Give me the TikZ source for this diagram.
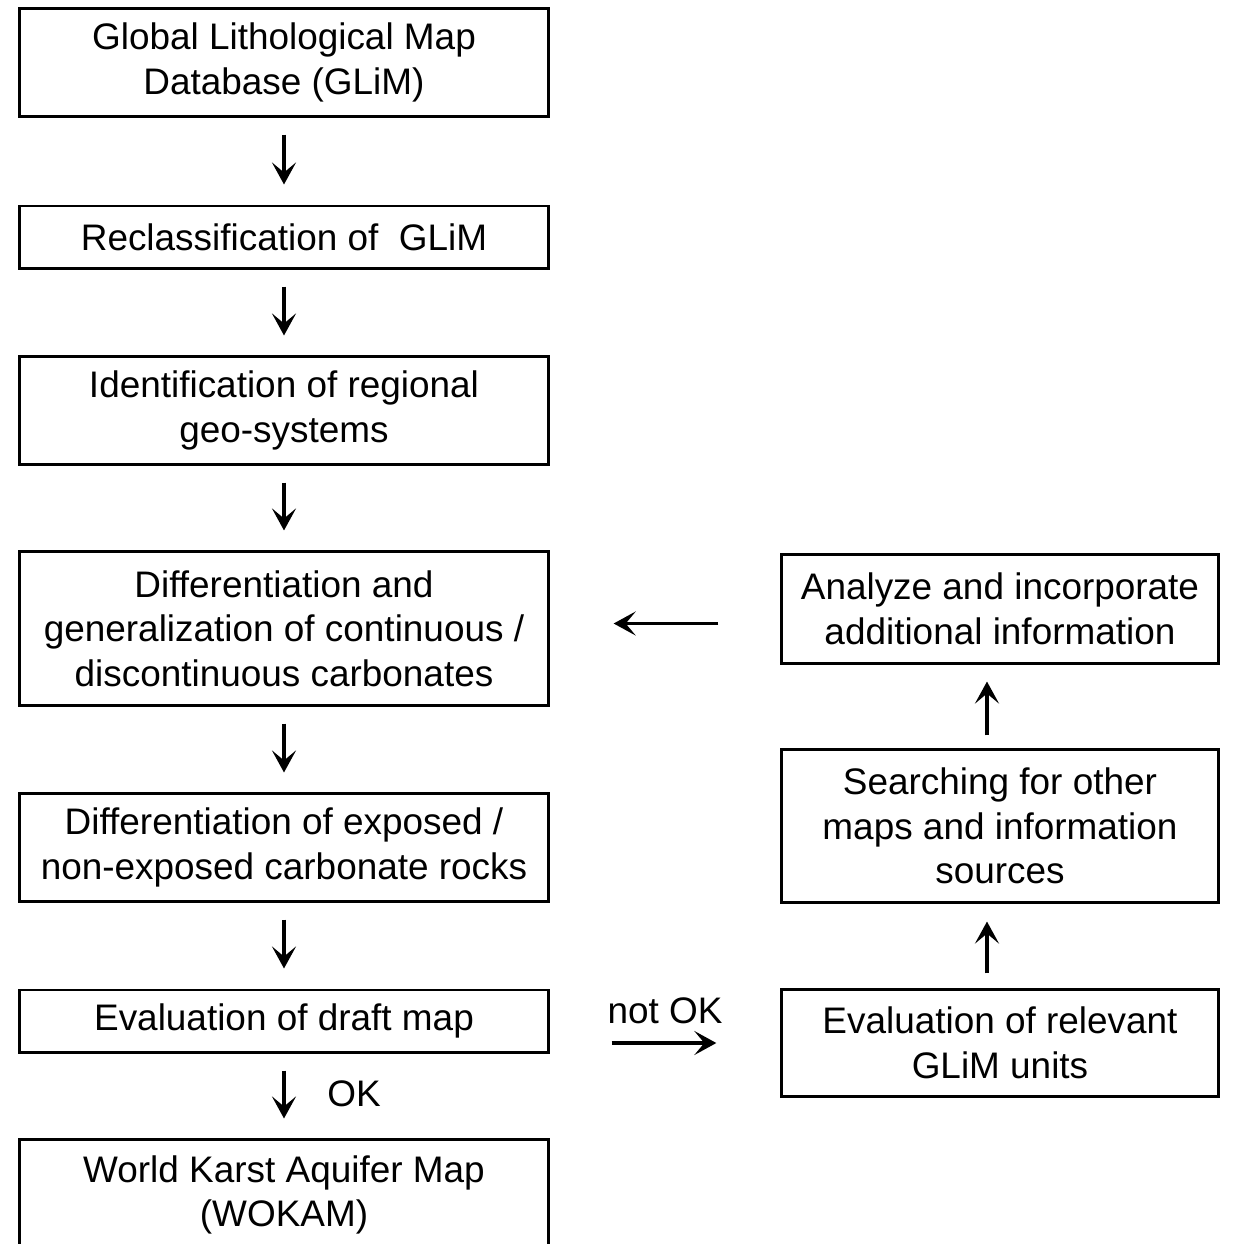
\documentclass[tikz,border=0pt]{standalone}
\usepackage{fontspec}
\setmainfont{Liberation Sans}
\usetikzlibrary{arrows.meta}

\begin{document}
\begin{tikzpicture}[x=0.01cm,y=-0.01cm,
        font=\fontsize{10.5}{12.7}\selectfont,
        box/.style={draw,line width=0.85pt,align=center,inner sep=0pt},
        leftbox/.style={box,minimum width=5.28cm},
        rightbox/.style={box,minimum width=4.36cm},
        arr/.style={line width=1pt,-{Stealth[length=2.2mm,width=2.4mm,inset=1mm]}}]
            \useasboundingbox (0,0) rectangle (1236,1244);
            \clip (0,0) rectangle (1236,1244);

            % main chain
            \node[leftbox,minimum height=1.07cm] (glim) at (284,62.5) {Global Lithological Map\\Database (GLiM)};
            \node[leftbox,minimum height=0.62cm] (recl) at (284,237) {Reclassification of~ GLiM};
            \node[leftbox,minimum height=1.07cm] (ident) at (284,410.5) {Identification of regional\\geo-systems};
            \node[leftbox,minimum height=1.53cm] (diff) at (284,628.5) {Differentiation and\\generalization of continuous /\\discontinuous carbonates};
            \node[leftbox,minimum height=1.07cm] (expo) at (284,847.5) {Differentiation of exposed /\\non-exposed carbonate rocks};
            \node[leftbox,minimum height=0.62cm] (draft) at (284,1021) {Evaluation of draft map};
            \node[leftbox,minimum height=1.10cm] (wokam) at (284,1195) {World Karst Aquifer Map\\(WOKAM)};

            % feedback loop
            \node[rightbox,minimum height=1.08cm] (anal) at (1000,609) {Analyze and incorporate\\additional information};
            \node[rightbox,minimum height=1.52cm] (search) at (1000,826) {Searching for other\\maps and information\\sources};
            \node[rightbox,minimum height=1.06cm] (units) at (1000,1043) {Evaluation of relevant\\GLiM units};

            \foreach \a/\b in {glim/recl,recl/ident,ident/diff,diff/expo,expo/draft,draft/wokam}
                \draw[arr,shorten <=0.17cm,shorten >=0.2cm] (\a) -- (\b);

            \draw[arr,shorten <=0.62cm,shorten >=0.64cm] (draft.east |- units.west) -- node[above=0.06cm] (notok) {not OK} (units.west);
            \draw[arr,shorten <=0.15cm,shorten >=0.18cm] ([xshift=-0.13cm]units.north) -- ([xshift=-0.13cm]search.south);
            \draw[arr,shorten <=0.13cm,shorten >=0.17cm] ([xshift=-0.13cm]search.north) -- ([xshift=-0.13cm]anal.south);
            \draw[arr,shorten <=0.62cm,shorten >=0.64cm] ([yshift=0.05cm]anal.west |- diff.east) -- ([yshift=0.05cm]diff.east);

            \node[anchor=west] (ok) at (315,1094) {OK};
        \end{tikzpicture}
\end{document}
